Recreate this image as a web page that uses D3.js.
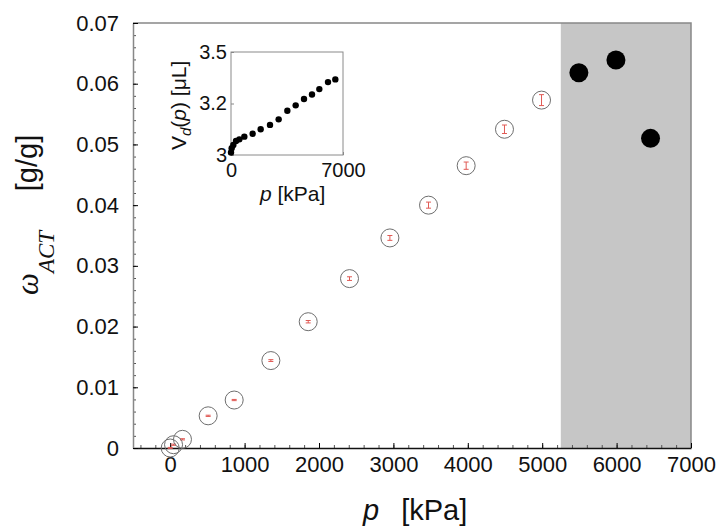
<!DOCTYPE html>
<html>
<head>
<meta charset="utf-8">
<script src="https://cdn.jsdelivr.net/npm/d3@7"></script>
<style>
  body { margin: 0; background: #fff; }
  svg text { font-family: "Liberation Sans", Arial, sans-serif; fill: #111; }
</style>
</head>
<body>
<div id="viz"></div>
<script>
const width = 716;
const height = 527;

// main series (open circles with error bars)
const pMain = [0, 45, 165, 510, 860, 1353, 1855, 2410, 2953, 3472, 3978, 4493, 4991];
const omegaMain = [0, 0.00054, 0.00143, 0.0053, 0.0079, 0.0144, 0.0208, 0.0279, 0.0346, 0.0400, 0.0465, 0.0525, 0.0573];
const omegaErr = [0.0001, 0.0001, 0.0001, 0.0001, 0.0001, 0.00015, 0.0002, 0.0003, 0.0004, 0.0005, 0.0006, 0.0007, 0.0009];

// points in the shaded range (filled circles)
const pShaded = [5493, 5991, 6456];
const omegaShaded = [0.0618, 0.0639, 0.0510];
const shadeStart = 5250;

// inset V_d(p)
const pInset = [0, 42, 146, 312, 521, 833, 1354, 1854, 2437, 2979, 3521, 4042, 4562, 5062, 5521, 6062, 6521];
const vInset = [3.012, 3.0325, 3.0485, 3.068, 3.076, 3.089, 3.103, 3.125, 3.146, 3.173, 3.215, 3.241, 3.272, 3.294, 3.320, 3.354, 3.367];
const insetYTicks = [3, 3.25, 3.5];
const insetYLabels = ['3', '3.2', '3.5'];
const insetXTicks = [0, 7000];

const xMajor = d3.range(0, 7001, 1000);
const xMinor = d3.range(-400, 7001, 200);
const yMajor = d3.range(0, 0.0701, 0.01);
const yMinor = d3.range(0, 0.0701, 0.002);

const svg = d3.select('#viz')
    .append('svg')
    .attr('width', width)
    .attr('height', height);

const x = d3.scaleLinear().domain([-500, 7000]).range([133, 691]);
const y = d3.scaleLinear().domain([0, 0.07]).range([448, 23]);

// shaded region
svg.append('rect')
    .attr('x', x(shadeStart))
    .attr('y', y(0.07))
    .attr('width', x(7000) - x(shadeStart))
    .attr('height', y(0) - y(0.07))
    .attr('fill', '#c6c6c6');

// frame (top and right)
svg.append('path')
    .attr('d', `M${x(-500)},${y(0.07)}H${x(7000)}V${y(0)}`)
    .attr('fill', 'none')
    .attr('stroke', '#888')
    .attr('stroke-width', 1.5);

// minor ticks
svg.append('g')
    .attr('transform', `translate(0,${y(0)})`)
    .call(d3.axisBottom(x).tickValues(xMinor).tickSize(-3).tickFormat(''))
    .call(g => g.select('.domain').remove())
    .selectAll('line').attr('stroke', '#555');
svg.append('g')
    .attr('transform', `translate(${x(-500)},0)`)
    .call(d3.axisLeft(y).tickValues(yMinor).tickSize(-3).tickFormat(''))
    .call(g => g.select('.domain').remove())
    .selectAll('line').attr('stroke', '#555');

// major axes
const xAxis = svg.append('g')
    .attr('transform', `translate(0,${y(0)})`)
    .call(d3.axisBottom(x).tickValues(xMajor).tickSizeInner(-5).tickSizeOuter(0).tickPadding(8).tickFormat(d3.format('d')));
xAxis.select('.domain').attr('stroke', '#111').attr('stroke-width', 1.5);
xAxis.selectAll('text').style('font-size', '22px');

const yAxis = svg.append('g')
    .attr('transform', `translate(${x(-500)},0)`)
    .call(d3.axisLeft(y).tickValues(yMajor).tickSizeInner(-5).tickSizeOuter(0).tickPadding(14)
        .tickFormat(d => d === 0 ? '0' : d3.format('.2f')(d)));
yAxis.select('.domain').attr('stroke', '#888').attr('stroke-width', 1.5);
yAxis.selectAll('text').style('font-size', '22px');

// error bars
const errG = svg.append('g').attr('stroke', '#e05a55').attr('stroke-width', 1);
pMain.forEach((p, i) => {
    const cx = x(p);
    const y0 = y(omegaMain[i] - omegaErr[i]);
    const y1 = y(omegaMain[i] + omegaErr[i]);
    errG.append('path')
        .attr('fill', 'none')
        .attr('d', `M${cx},${y0}V${y1}M${cx - 2.5},${y0}H${cx + 2.5}M${cx - 2.5},${y1}H${cx + 2.5}`);
});

// open circles
svg.append('g')
    .selectAll('circle')
    .data(pMain)
    .join('circle')
    .attr('cx', d => x(d))
    .attr('cy', (d, i) => y(omegaMain[i]))
    .attr('r', 9)
    .attr('fill', 'none')
    .attr('stroke', '#6e6e6e')
    .attr('stroke-width', 1);

// filled circles
svg.append('g')
    .selectAll('circle')
    .data(pShaded)
    .join('circle')
    .attr('cx', d => x(d))
    .attr('cy', (d, i) => y(omegaShaded[i]))
    .attr('r', 9.5)
    .attr('fill', '#000');

// axis titles
svg.append('text')
    .attr('x', 363)
    .attr('y', 520)
    .style('font-size', '29px')
    .call(t => {
        t.append('tspan').style('font-style', 'italic').text('p');
        t.append('tspan').attr('dx', 22).text('[kPa]');
    });

svg.append('text')
    .attr('transform', 'translate(38,295) rotate(-90)')
    .call(t => {
        t.append('tspan')
            .style('font-family', '"Liberation Serif", "Times New Roman", serif')
            .style('font-style', 'italic')
            .style('font-size', '31px')
            .text('\u03c9');
        t.append('tspan')
            .attr('dy', 16)
            .style('font-family', '"Liberation Serif", "Times New Roman", serif')
            .style('font-style', 'italic')
            .style('font-size', '23px')
            .text('ACT');
    });
svg.append('text')
    .attr('transform', 'translate(37,163) rotate(-90)')
    .attr('text-anchor', 'middle')
    .style('font-size', '29px')
    .text('[g/g]');

// inset
const xi = d3.scaleLinear().domain([0, 7000]).range([231, 343]);
const yi = d3.scaleLinear().domain([3, 3.5]).range([155, 52]);

svg.append('rect')
    .attr('x', xi(0))
    .attr('y', yi(3.5))
    .attr('width', xi(7000) - xi(0))
    .attr('height', yi(3) - yi(3.5))
    .attr('fill', '#fff')
    .attr('stroke', '#8a8a8a')
    .attr('stroke-width', 1);

const xiAxis = svg.append('g')
    .attr('transform', `translate(0,${yi(3)})`)
    .call(d3.axisBottom(xi).tickValues(insetXTicks).tickSizeInner(-3).tickSizeOuter(0).tickPadding(8).tickFormat(d3.format('d')));
xiAxis.select('.domain').remove();
xiAxis.selectAll('line').attr('stroke', '#888');
xiAxis.selectAll('text').style('font-size', '20px');

const yiAxis = svg.append('g')
    .attr('transform', `translate(${xi(0)},0)`)
    .call(d3.axisLeft(yi).tickValues(insetYTicks).tickSizeInner(-3).tickSizeOuter(0).tickPadding(4)
        .tickFormat((d, i) => insetYLabels[i]));
yiAxis.select('.domain').remove();
yiAxis.selectAll('line').attr('stroke', '#888');
yiAxis.selectAll('text').style('font-size', '20px');

svg.append('g')
    .selectAll('circle')
    .data(pInset)
    .join('circle')
    .attr('cx', d => xi(d))
    .attr('cy', (d, i) => yi(vInset[i]))
    .attr('r', 3.2)
    .attr('fill', '#000');

svg.append('text')
    .attr('x', 260)
    .attr('y', 201)
    .style('font-size', '21px')
    .call(t => {
        t.append('tspan').style('font-style', 'italic').text('p');
        t.append('tspan').text(' [kPa]');
    });

svg.append('text')
    .attr('transform', 'translate(186,150) rotate(-90)')
    .style('font-size', '21px')
    .call(t => {
        t.append('tspan').text('V');
        t.append('tspan').attr('dy', 5).style('font-size', '15px').style('font-style', 'italic').text('d');
        t.append('tspan').attr('dy', -5).text('(');
        t.append('tspan').style('font-style', 'italic').text('p');
        t.append('tspan').text(') [\u03bcL]');
    });
</script>
</body>
</html>
